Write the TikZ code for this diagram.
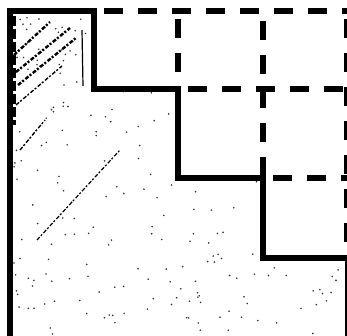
\documentclass[tikz,border=0pt]{standalone}
\usepackage{tikz}
\begin{document}
\begin{tikzpicture}[x=1pt,y=-1pt]
\tikzstyle{every node}+=[inner sep=0pt]
\tikzstyle{solidline}=[black, line width=6pt]
\tikzstyle{dashline}=[black, line width=5.5pt, dash pattern=on 19pt off 15pt]
\tikzstyle{speck}=[black!80]
\tikzstyle{streak}=[black, line width=2.4pt, dash pattern=on 4pt off 1.5pt on 2pt off 2pt]
\useasboundingbox (0,0) rectangle (347,336);
% staircase corners
\coordinate (s0) at (10,336);
\coordinate (s1) at (10,11);
\coordinate (s2) at (94,11);
\coordinate (s3) at (94,89);
\coordinate (s4) at (178,89);
\coordinate (s5) at (178,178);
\coordinate (s6) at (263,178);
\coordinate (s7) at (263,258);
\coordinate (s8) at (348,258);
\coordinate (s9) at (348,336);
% upper grid corners
\coordinate (t2) at (178,11);
\coordinate (t3) at (263,11);
\coordinate (t4) at (347,11);
\coordinate (r1) at (347,89);
\coordinate (r2) at (347,178);
\coordinate (r3) at (347,258);
% specks below the staircase
\pgfmathsetseed{11}
\foreach \xr/\ya/\yb/\n in {94/14/89/30, 178/89/178/35, 263/178/258/40, 345/258/336/80} {
  \foreach \i in {1,...,\n} {
    \pgfmathsetmacro\px{14+rnd*(\xr-18)}
    \pgfmathsetmacro\py{\ya+rnd*(\yb-\ya)}
    \fill [speck] (\px,\py) circle (0.9);
  }
}
% streaks in the first block
\draw [streak] (14,55) -- (50,22);
\draw [streak] (16,72) -- (70,28);
\draw [streak] (18,85) -- (76,38);
\draw [streak, line width=1.4pt] (16,105) -- (62,66);
\draw [streak, line width=1.4pt] (20,150) -- (45,120);
\draw [black, line width=1.2pt] (82,30) -- (83,86);
\draw [black, line width=3pt, dash pattern=on 10pt off 3pt] (14,16) -- (14,125);
\draw [streak, line width=1.2pt] (37,240) -- (120,150);
% solid staircase
\draw [solidline] (s0) -- (s1) -- (s2) -- (s3) -- (s4) -- (s5) -- (s6) -- (s7) -- (s8) -- (s9);
% dashed upper blocks
\draw [dashline, dash phase=-10pt] (s2) -- (t4);
\draw [dashline, dash phase=-8pt] (t2) -- (s4);
\draw [dashline, dash phase=-10pt] (t3) -- (s6);
\draw [dashline, dash phase=-10pt] (s4) -- (r1);
\draw [dashline, dash phase=-10pt] (s6) -- (r2);
\draw [dashline, dash phase=-8pt] (t4) -- (r3);
\end{tikzpicture}
\end{document}
